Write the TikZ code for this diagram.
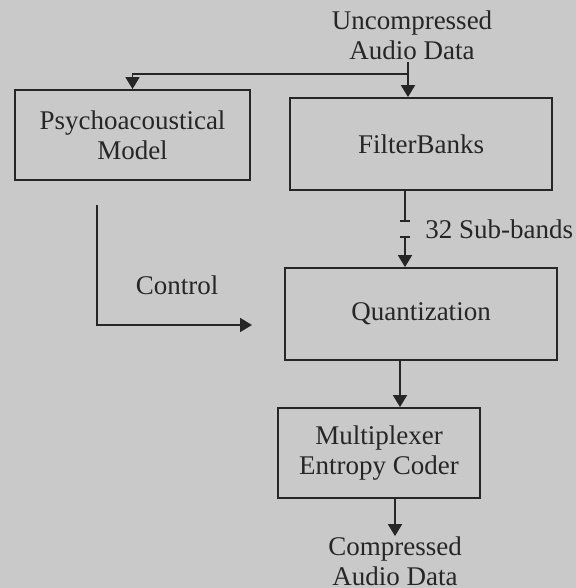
\documentclass[tikz,border=0pt]{standalone}
\usepackage{fontspec}
\setmainfont{Liberation Serif}
\usetikzlibrary{arrows.meta, positioning}

\definecolor{paper}{HTML}{C9C9C9}
\definecolor{ink}{HTML}{262626}

\begin{document}
\begin{tikzpicture}[
    x=0.5pt, y=-0.5pt,
    blockbox/.style={rectangle, draw=ink, line width=0.9pt, align=center, text=ink, font=\fontsize{13.5}{15}\selectfont, inner sep=0pt},
    lbl/.style={align=center, text=ink, font=\fontsize{13.5}{15}\selectfont, inner sep=0pt},
    arrow/.style={-{Triangle[length=6pt, width=7pt]}, line width=0.9pt, draw=ink},
    wire/.style={line width=0.9pt, draw=ink}
]

\fill[paper] (0,0) rectangle (576,588);
\useasboundingbox (0,0) rectangle (576,588);

% blocks
\node[blockbox, minimum width=117.5pt, minimum height=45pt] (psycho) at (132.5,135) {Psychoacoustical\\Model};
\node[blockbox, minimum width=131pt, minimum height=46pt] (filter) at (421,144) {FilterBanks};
\node[blockbox, minimum width=136pt, minimum height=46pt] (quant) at (421,314) {Quantization};
\node[blockbox, minimum width=101pt, minimum height=45pt] (mux) at (379,453) {Multiplexer\\Entropy Coder};

% texts
\node[lbl] (input) at (412,35) {Uncompressed\\Audio Data};
\node[lbl] (output) at (395,561) {Compressed\\Audio Data};
\node[lbl, anchor=west] (subbands) at (425,229) {32 Sub-bands};
\node[lbl] (ctrl) at (177,285) {Control};

% helper points
\coordinate (split) at (408,74);
\coordinate (brkA) at (405,222);
\coordinate (brkB) at (405,236);
\coordinate (trunk) at (400,0);
\coordinate (ctlstart) at (97,205);
\coordinate (ctlend) at (252,325);

% connectors
\draw[arrow] (split |- input.south) ++(0,2) -- (split |- filter.north);
\draw[arrow] (split) -| (psycho.north);
\draw[wire, -{Bar[width=5pt]}] (filter.south -| brkA) -- (brkA);
\draw[wire, {Bar[width=5pt]}-{Triangle[length=6pt, width=7pt]}] (brkB) -- (quant.north -| brkB);
\draw[arrow] (ctlstart) |- (ctlend);
\draw[arrow] (quant.south -| trunk) -- (mux.north -| trunk);
\draw[arrow] (mux.south -| output) -- (output.north);

\end{tikzpicture}
\end{document}
